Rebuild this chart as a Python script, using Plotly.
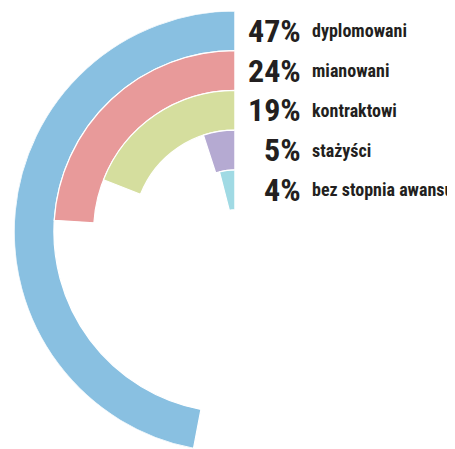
import math
import plotly.graph_objects as go

labels = ["dyplomowani", "mianowani", "kontraktowi", "stażyści", "bez stopnia awansu"]
values = [47, 24, 19, 5, 4]
colors = ["#89C0E1", "#E89A9A", "#D5DE9E", "#B5AAD2", "#A0DAE4"]

# the page body adds an 8px margin, so the figure is 8px smaller than the window
W, H = 447, 441
HOLE = 0.1
SECTOR = [90, 260]
n = len(values)

# outermost ring first
bases = [n - 1 - i for i in range(n)]

fig = go.Figure()
fig.add_trace(go.Barpolar(
    r=[1] * n,
    base=bases,
    theta=[v * 3.6 / 2 for v in values],
    width=[v * 3.6 for v in values],
    marker=dict(color=colors, line=dict(color="white", width=1.2)),
    customdata=labels,
    text=[f"{v}%" for v in values],
    hovertemplate="%{customdata}: %{text}<extra></extra>",
))

# polar geometry (px) so the labels line up with the rings
dom_x = [6 / W, 227 / W]
dom_y = [0, 1 - 3 / H]
dom_h = (dom_y[1] - dom_y[0]) * H
R = dom_h / (1 - math.sin(math.radians(SECTOR[1])))
cy = H * (1 - dom_y[1]) + R
ring_w = R * (1 - HOLE) / n

FONT = "Liberation Sans Narrow, Arial Narrow, Roboto Condensed, sans-serif"
annotations = []
for lab, v, b in zip(labels, values, bases):
    y_px = cy - (R * HOLE + (b + 0.5) * ring_w)
    y = 1 - y_px / H
    annotations.append(dict(
        x=295 / W, y=y, xref="paper", yref="paper",
        xanchor="right", yanchor="middle", showarrow=False,
        text=f"<b>{v}%</b>", font=dict(family=FONT, size=32, color="#231F20"),
    ))
    annotations.append(dict(
        x=302 / W, y=y, xref="paper", yref="paper",
        xanchor="left", yanchor="middle", showarrow=False,
        text=f"<b>{lab}</b>", font=dict(family=FONT, size=18, color="#231F20"),
    ))

fig.update_layout(
    width=W, height=H,
    margin=dict(t=0, b=0, l=0, r=0),
    paper_bgcolor="white",
    showlegend=False,
    polar=dict(
        domain=dict(x=dom_x, y=dom_y),
        sector=SECTOR,
        hole=HOLE,
        bgcolor="white",
        radialaxis=dict(range=[0, n], visible=False),
        angularaxis=dict(rotation=90, direction="counterclockwise", visible=False),
    ),
    annotations=annotations,
)

fig.write_html("out.html")
